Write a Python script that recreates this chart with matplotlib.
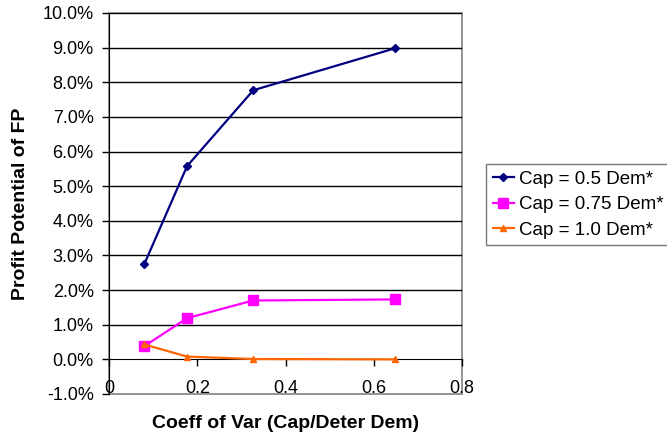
import matplotlib
matplotlib.use("Agg")
import matplotlib.pyplot as plt
from matplotlib.patches import Rectangle
from matplotlib.ticker import FuncFormatter

plt.rcParams['font.family'] = ['Liberation Sans', 'DejaVu Sans']

coeff_var = [0.08, 0.177, 0.327, 0.648]
cap_050 = [0.0275, 0.0558, 0.0777, 0.0898]
cap_075 = [0.0038, 0.0119, 0.0170, 0.0173]
cap_100 = [0.0043, 0.0008, 0.0001, 0.0000]
labels = ["Cap = 0.5 Dem*", "Cap = 0.75 Dem*", "Cap = 1.0 Dem*"]

W, H = 667, 438
fig = plt.figure(figsize=(W / 100, H / 100), dpi=100)
ax = fig.add_axes([109 / W, (H - 394) / H, 353 / W, 381 / H])

ax.set_xlim(0, 0.8)
ax.set_ylim(-0.01, 0.10)

yt = [i / 100 for i in range(-1, 11)]
ax.set_yticks(yt)
ax.yaxis.set_major_formatter(FuncFormatter(lambda v, p: f"{v*100:.1f}%"))
ax.set_xticks([0, 0.2, 0.4, 0.6, 0.8])
ax.xaxis.set_major_formatter(FuncFormatter(lambda v, p: f"{v:g}"))

for y in yt[2:]:
    ax.axhline(y, color='black', lw=1, zorder=1)

for s in ['top', 'right']:
    ax.spines[s].set_visible(False)
ax.spines['bottom'].set_position(('data', 0))
ax.spines['bottom'].set_color('black')
ax.spines['left'].set_color('black')
ax.add_patch(Rectangle((0, 0), 1, 1, transform=ax.transAxes, fill=False,
                       edgecolor='#808080', lw=1.2, zorder=0.5, clip_on=False))

ax.tick_params(axis='x', direction='out', length=5, pad=10, labelsize=13, width=1)
ax.tick_params(axis='y', direction='out', length=5, pad=6, labelsize=13, width=1)

l1, = ax.plot(coeff_var, cap_050, color='#000080', lw=1.6, marker='D', ms=4.5,
              clip_on=False, zorder=3, label=labels[0])
l2, = ax.plot(coeff_var, cap_075, color='#FF00FF', lw=1.6, marker='s', ms=6.5,
              clip_on=False, zorder=3, label=labels[1])
l3, = ax.plot(coeff_var, cap_100, color='#FF6600', lw=1.6, marker='^', ms=5,
              clip_on=False, zorder=3, label=labels[2])

ax.set_ylabel("Profit Potential of FP", fontsize=14, fontweight='bold', va='center')
ax.yaxis.set_label_coords((21 - 109) / 353, 0.5)
ax.set_xlabel("Coeff of Var (Cap/Deter Dem)", fontsize=14, fontweight='bold', va='center')
ax.xaxis.set_label_coords(0.5, (394 - 423) / 381)

leg = fig.legend(handles=[l1, l2, l3], loc='upper left',
                 bbox_to_anchor=(486 / W, 1 - 164 / H), fontsize=13.5,
                 frameon=True, fancybox=False, edgecolor='#555555',
                 handlelength=1.15, handletextpad=0.25, labelspacing=0.45,
                 borderpad=0.35, borderaxespad=0)
leg.get_frame().set_linewidth(1.0)

fig.savefig("out.png", dpi=100)
